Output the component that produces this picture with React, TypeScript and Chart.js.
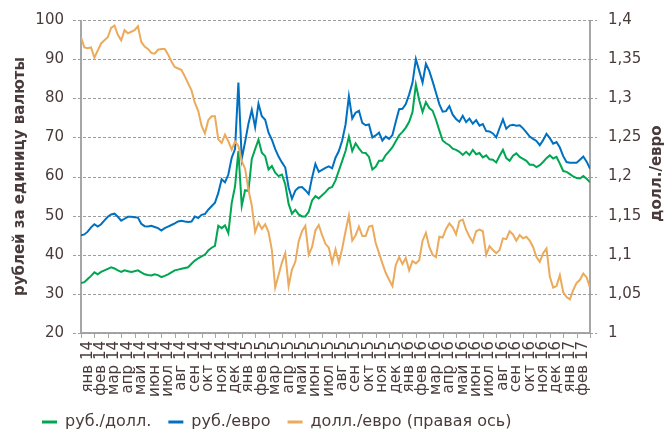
import React, { useEffect, useRef } from 'react';
import { Chart, registerables } from 'chart.js';

Chart.register(...registerables);

const monthLabels = [
  'янв 14', 'фев 14', 'мар 14', 'апр 14', 'май 14', 'июн 14', 'июл 14', 'авг 14', 'сен 14', 'окт 14', 'ноя 14', 'дек 14',
  'янв 15', 'фев 15', 'мар 15', 'апр 15', 'май 15', 'июн 15', 'июл 15', 'авг 15', 'сен 15', 'окт 15', 'ноя 15', 'дек 15',
  'янв 16', 'фев 16', 'мар 16', 'апр 16', 'май 16', 'июн 16', 'июл 16', 'авг 16', 'сен 16', 'окт 16', 'ноя 16', 'дек 16',
  'янв 17', 'фев 17',
];

const POINTS_PER_MONTH = 4;

const rubUsd = [
  32.8, 33.0, 33.8, 34.6, 35.5, 35.0, 35.6, 36.0, 36.4, 36.8, 36.5, 36.0, 35.6, 36.0, 35.8, 35.6,
  35.8, 36.0, 35.5, 35.0, 34.8, 34.7, 35.0, 34.8, 34.3, 34.6, 35.0, 35.5, 36.0, 36.2, 36.4, 36.6,
  36.8, 37.7, 38.5, 39.1, 39.6, 40.0, 41.1, 41.8, 42.3, 47.4, 46.8, 47.5, 45.5, 53.2, 57.5, 66.5,
  52.5, 56.5, 56.3, 64.5, 67.0, 69.4, 66.1, 65.2, 61.8, 62.7, 61.0, 60.1, 60.5, 58.0, 53.0, 50.5,
  51.5, 50.3, 49.8, 49.8, 51.0, 53.9, 55.0, 54.4, 55.2, 56.0, 57.0, 57.3, 59.0, 61.5, 64.0, 66.5,
  70.2, 66.5, 68.5, 67.2, 66.1, 66.0, 65.0, 61.8, 62.5, 64.0, 64.0, 65.5, 66.4, 67.5, 69.0, 70.5,
  71.4, 72.5, 74.0, 76.5, 83.5, 79.5, 76.5, 79.0, 77.5, 76.8, 74.5, 71.8, 69.2, 68.5, 68.0, 67.1,
  66.8, 66.3, 65.5, 66.3, 65.5, 66.8, 65.7, 66.0, 64.9, 65.4, 64.4, 64.3, 63.6, 65.3, 66.8, 64.7,
  64.0, 65.3, 65.9, 65.0, 64.5, 64.0, 63.0, 63.0, 62.4, 62.9, 63.7, 64.7, 65.4, 64.6, 65.0, 63.3,
  61.4, 61.2, 60.6, 60.0, 59.6, 59.5, 60.1, 59.4, 58.5,
];

const rubEur = [
  45.0, 45.2, 45.9, 47.0, 47.8, 47.2, 47.8, 48.8, 49.7, 50.3, 50.5, 49.7, 48.7, 49.2, 49.7, 49.7,
  49.6, 49.5, 47.9, 47.3, 47.2, 47.4, 47.1, 46.8, 46.2, 46.8, 47.2, 47.6, 48.0, 48.5, 48.7, 48.5,
  48.4, 48.5, 49.8, 49.4, 50.2, 50.4, 51.5, 52.4, 53.3, 55.8, 59.3, 58.5, 60.5, 64.8, 67.0, 84.0,
  64.5, 68.8, 73.5, 77.0, 72.6, 78.6, 75.4, 74.5, 71.2, 69.4, 67.0, 65.1, 63.6, 62.3, 57.2, 54.3,
  56.4, 57.2, 57.3, 56.5, 55.5, 59.7, 63.2, 61.2, 61.7, 62.2, 62.6, 62.1, 64.8, 66.5, 69.2, 73.3,
  80.5, 74.8, 76.3, 76.8, 73.7, 73.1, 73.3, 70.0, 70.5, 71.2, 69.2, 70.2, 69.6, 70.6, 74.0, 77.2,
  77.3, 78.5, 81.0, 84.0, 90.0, 87.0, 84.0, 88.8, 87.0, 84.3, 81.4, 78.5, 76.6, 76.7, 78.0, 75.8,
  74.7, 74.0, 75.5, 73.9, 74.8, 73.5, 74.4, 73.0, 73.4, 71.6, 71.5, 71.0, 70.0, 72.4, 74.6, 72.2,
  73.0, 73.2, 73.0, 73.1, 72.3, 71.3, 70.2, 69.6, 69.1, 68.0, 69.3, 70.9, 69.8, 68.4, 68.8, 67.4,
  65.2, 63.7, 63.5, 63.5, 63.5, 64.3, 65.1, 63.8, 62.0,
];

const usdEur = [
  1.378, 1.365, 1.364, 1.365, 1.352, 1.361, 1.370, 1.374, 1.378, 1.390, 1.393, 1.381, 1.374, 1.387, 1.383, 1.385,
  1.387, 1.392, 1.372, 1.366, 1.363, 1.358, 1.357, 1.362, 1.363, 1.363, 1.356, 1.347, 1.340, 1.338, 1.336, 1.328,
  1.319, 1.310, 1.294, 1.284, 1.265, 1.255, 1.272, 1.277, 1.277, 1.2475, 1.243, 1.2535, 1.245, 1.2345, 1.245, 1.239,
  1.220, 1.210, 1.183, 1.163, 1.129, 1.141, 1.133, 1.139, 1.129, 1.106, 1.058, 1.074, 1.090, 1.102, 1.060, 1.081,
  1.091, 1.117, 1.130, 1.137, 1.100, 1.110, 1.131, 1.138, 1.125, 1.114, 1.109, 1.090, 1.107, 1.090, 1.108, 1.130,
  1.150, 1.118, 1.125, 1.136, 1.124, 1.124, 1.136, 1.137, 1.115, 1.102, 1.089, 1.077, 1.068, 1.060, 1.087, 1.097,
  1.088, 1.096, 1.080, 1.092, 1.089, 1.093, 1.118, 1.128, 1.110, 1.100, 1.097, 1.123, 1.122, 1.133, 1.140, 1.135,
  1.126, 1.143, 1.145, 1.132, 1.123, 1.116, 1.130, 1.132, 1.130, 1.100, 1.111, 1.106, 1.102, 1.106, 1.121, 1.120,
  1.130, 1.126, 1.118, 1.125, 1.121, 1.123, 1.118, 1.110, 1.097, 1.091, 1.102, 1.108, 1.072, 1.058, 1.060, 1.074,
  1.052, 1.046, 1.043, 1.055, 1.064, 1.068, 1.076, 1.071, 1.058,
];

const seriesNames = ['руб./долл.', 'руб./евро', 'долл./евро (правая ось)'];
const leftTitle = 'рублей за единицу валюты';
const rightTitle = 'долл./евро';

const leftAxis = { min: 20, max: 100, step: 10 };
const rightAxis = { min: 1, max: 1.4, step: 0.05 };

const GREEN = '#00a651';
const BLUE = '#0070c0';
const ORANGE = '#ebaa5c';
const TEXT = '#4a3b3b';
const GRID = '#9c9c9c';
const AXIS = '#a6a6a6';
const CLEAR = 'rgba(0,0,0,0)';
const FAMILY = 'DejaVu Sans';

const toPoints = (vals: number[]) =>
  vals.map((v, i) => ({ x: i / POINTS_PER_MONTH, y: v }));

// dashed horizontal segment made of small filled rects
function dashH(ctx: any, x0: number, x1: number, y: number) {
  for (let x = x0; x < x1; x += 5) {
    ctx.fillRect(x, y, Math.min(3, x1 - x), 1);
  }
}

// Grid lines, tick marks, axis lines and axis titles, placed from the chart's scales
const axesPainter = {
  id: 'axesPainter',
  afterDraw(chart: any) {
    const { ctx, chartArea: a, scales } = chart;
    const y = scales.y;
    const y1 = scales.y1;
    const xs = scales.x;

    // draw grid behind everything already on the canvas
    ctx.save();
    ctx.globalCompositeOperation = 'destination-over';
    ctx.fillStyle = GRID;
    y.ticks.forEach((t: any) => {
      const py = Math.round(y.getPixelForValue(t.value));
      dashH(ctx, a.left - 8, a.right, py);
    });
    y1.ticks.forEach((t: any) => {
      const py = Math.round(y1.getPixelForValue(t.value));
      dashH(ctx, a.right, a.right + 7, py);
    });
    ctx.fillStyle = AXIS;
    for (let i = 0; i <= monthLabels.length; i++) {
      const px = Math.round(xs.getPixelForValue(i));
      ctx.fillRect(px, a.bottom, 1, 5);
    }
    ctx.fillRect(Math.round(a.left) - 1, a.top, 2, a.bottom - a.top + 1);
    ctx.fillRect(Math.round(a.right) - 1, a.top, 2, a.bottom - a.top + 1);
    ctx.fillRect(a.left, Math.round(a.bottom) - 1, a.right - a.left, 2);
    ctx.restore();

    const cy = (a.top + a.bottom) / 2;
    ctx.save();
    ctx.font = `bold 15px "${FAMILY}"`;
    ctx.fillStyle = TEXT;
    ctx.textAlign = 'center';
    ctx.textBaseline = 'middle';
    ctx.translate(20, cy);
    ctx.rotate(-Math.PI / 2);
    ctx.fillText(leftTitle, 0, 0);
    ctx.restore();
    ctx.save();
    ctx.font = `bold 15px "${FAMILY}"`;
    ctx.fillStyle = TEXT;
    ctx.textAlign = 'center';
    ctx.textBaseline = 'middle';
    ctx.translate(657, cy - 3);
    ctx.rotate(-Math.PI / 2);
    ctx.fillText(rightTitle, 0, 0);
    ctx.restore();
  },
};

const tickFont = { size: 15, family: FAMILY };

export default function App() {
  const ref = useRef<HTMLCanvasElement | null>(null);

  useEffect(() => {
    if (!ref.current) return;
    const chart = new Chart(ref.current, {
      type: 'line',
      data: {
        datasets: [
          {
            label: seriesNames[0], data: toPoints(rubUsd), borderColor: GREEN, backgroundColor: GREEN,
            borderWidth: 2, pointRadius: 0, xAxisID: 'x', yAxisID: 'y', order: 1,
          },
          {
            label: seriesNames[1], data: toPoints(rubEur), borderColor: BLUE, backgroundColor: BLUE,
            borderWidth: 2, pointRadius: 0, xAxisID: 'x', yAxisID: 'y', order: 2,
          },
          {
            label: seriesNames[2], data: toPoints(usdEur), borderColor: ORANGE, backgroundColor: ORANGE,
            borderWidth: 2, pointRadius: 0, xAxisID: 'x', yAxisID: 'y1', order: 0,
          },
        ],
      },
      options: {
        responsive: false,
        animation: false,
        layout: { padding: { left: 25, top: 18, right: 0, bottom: -2 } },
        plugins: {
          tooltip: { enabled: false },
          legend: {
            position: 'bottom',
            align: 'start',
            labels: {
              boxWidth: 15,
              boxHeight: 3,
              padding: 17,
              color: TEXT,
              font: { size: 16, family: FAMILY },
              sort: (a: any, b: any) => a.datasetIndex - b.datasetIndex,
              generateLabels: (c: any) =>
                (Chart.defaults.plugins.legend.labels as any).generateLabels(c).map((l: any) => ({ ...l, lineWidth: 0 })),
            },
          },
        },
        scales: {
          x: { type: 'linear', display: false, min: 0, max: monthLabels.length },
          xc: {
            type: 'category',
            labels: monthLabels,
            position: 'bottom',
            offset: true,
            grid: { offset: true, drawOnChartArea: false, tickLength: 5, color: CLEAR },
            border: { color: CLEAR, width: 1.5 },
            ticks: { autoSkip: false, minRotation: 90, maxRotation: 90, padding: 3, color: TEXT, font: tickFont },
            afterFit: (s: any) => { s.height = 64; },
          },
          y: {
            position: 'left',
            min: leftAxis.min,
            max: leftAxis.max,
            ticks: { stepSize: leftAxis.step, padding: 9, color: TEXT, font: tickFont },
            grid: { color: CLEAR, tickLength: 8 },
            border: { color: CLEAR, width: 1.5 },
            afterFit: (s: any) => { s.width = 56; },
          },
          y1: {
            position: 'right',
            min: rightAxis.min,
            max: rightAxis.max,
            ticks: {
              stepSize: rightAxis.step,
              padding: 11,
              color: TEXT,
              font: tickFont,
              callback: (v: any) => String(Math.round(Number(v) * 100) / 100).replace('.', ','),
            },
            grid: { drawOnChartArea: false, color: CLEAR, tickLength: 7 },
            border: { color: CLEAR, width: 1.5 },
            afterFit: (s: any) => { s.width = 76; },
          },
        },
      } as any,
      plugins: [axesPainter],
    });
    return () => chart.destroy();
  }, []);

  return (
    <div style={{ position: 'absolute', left: 0, top: 0, width: 666, height: 438 }}>
      <canvas ref={ref} width={666} height={438} style={{ display: 'block' }} />
    </div>
  );
}
